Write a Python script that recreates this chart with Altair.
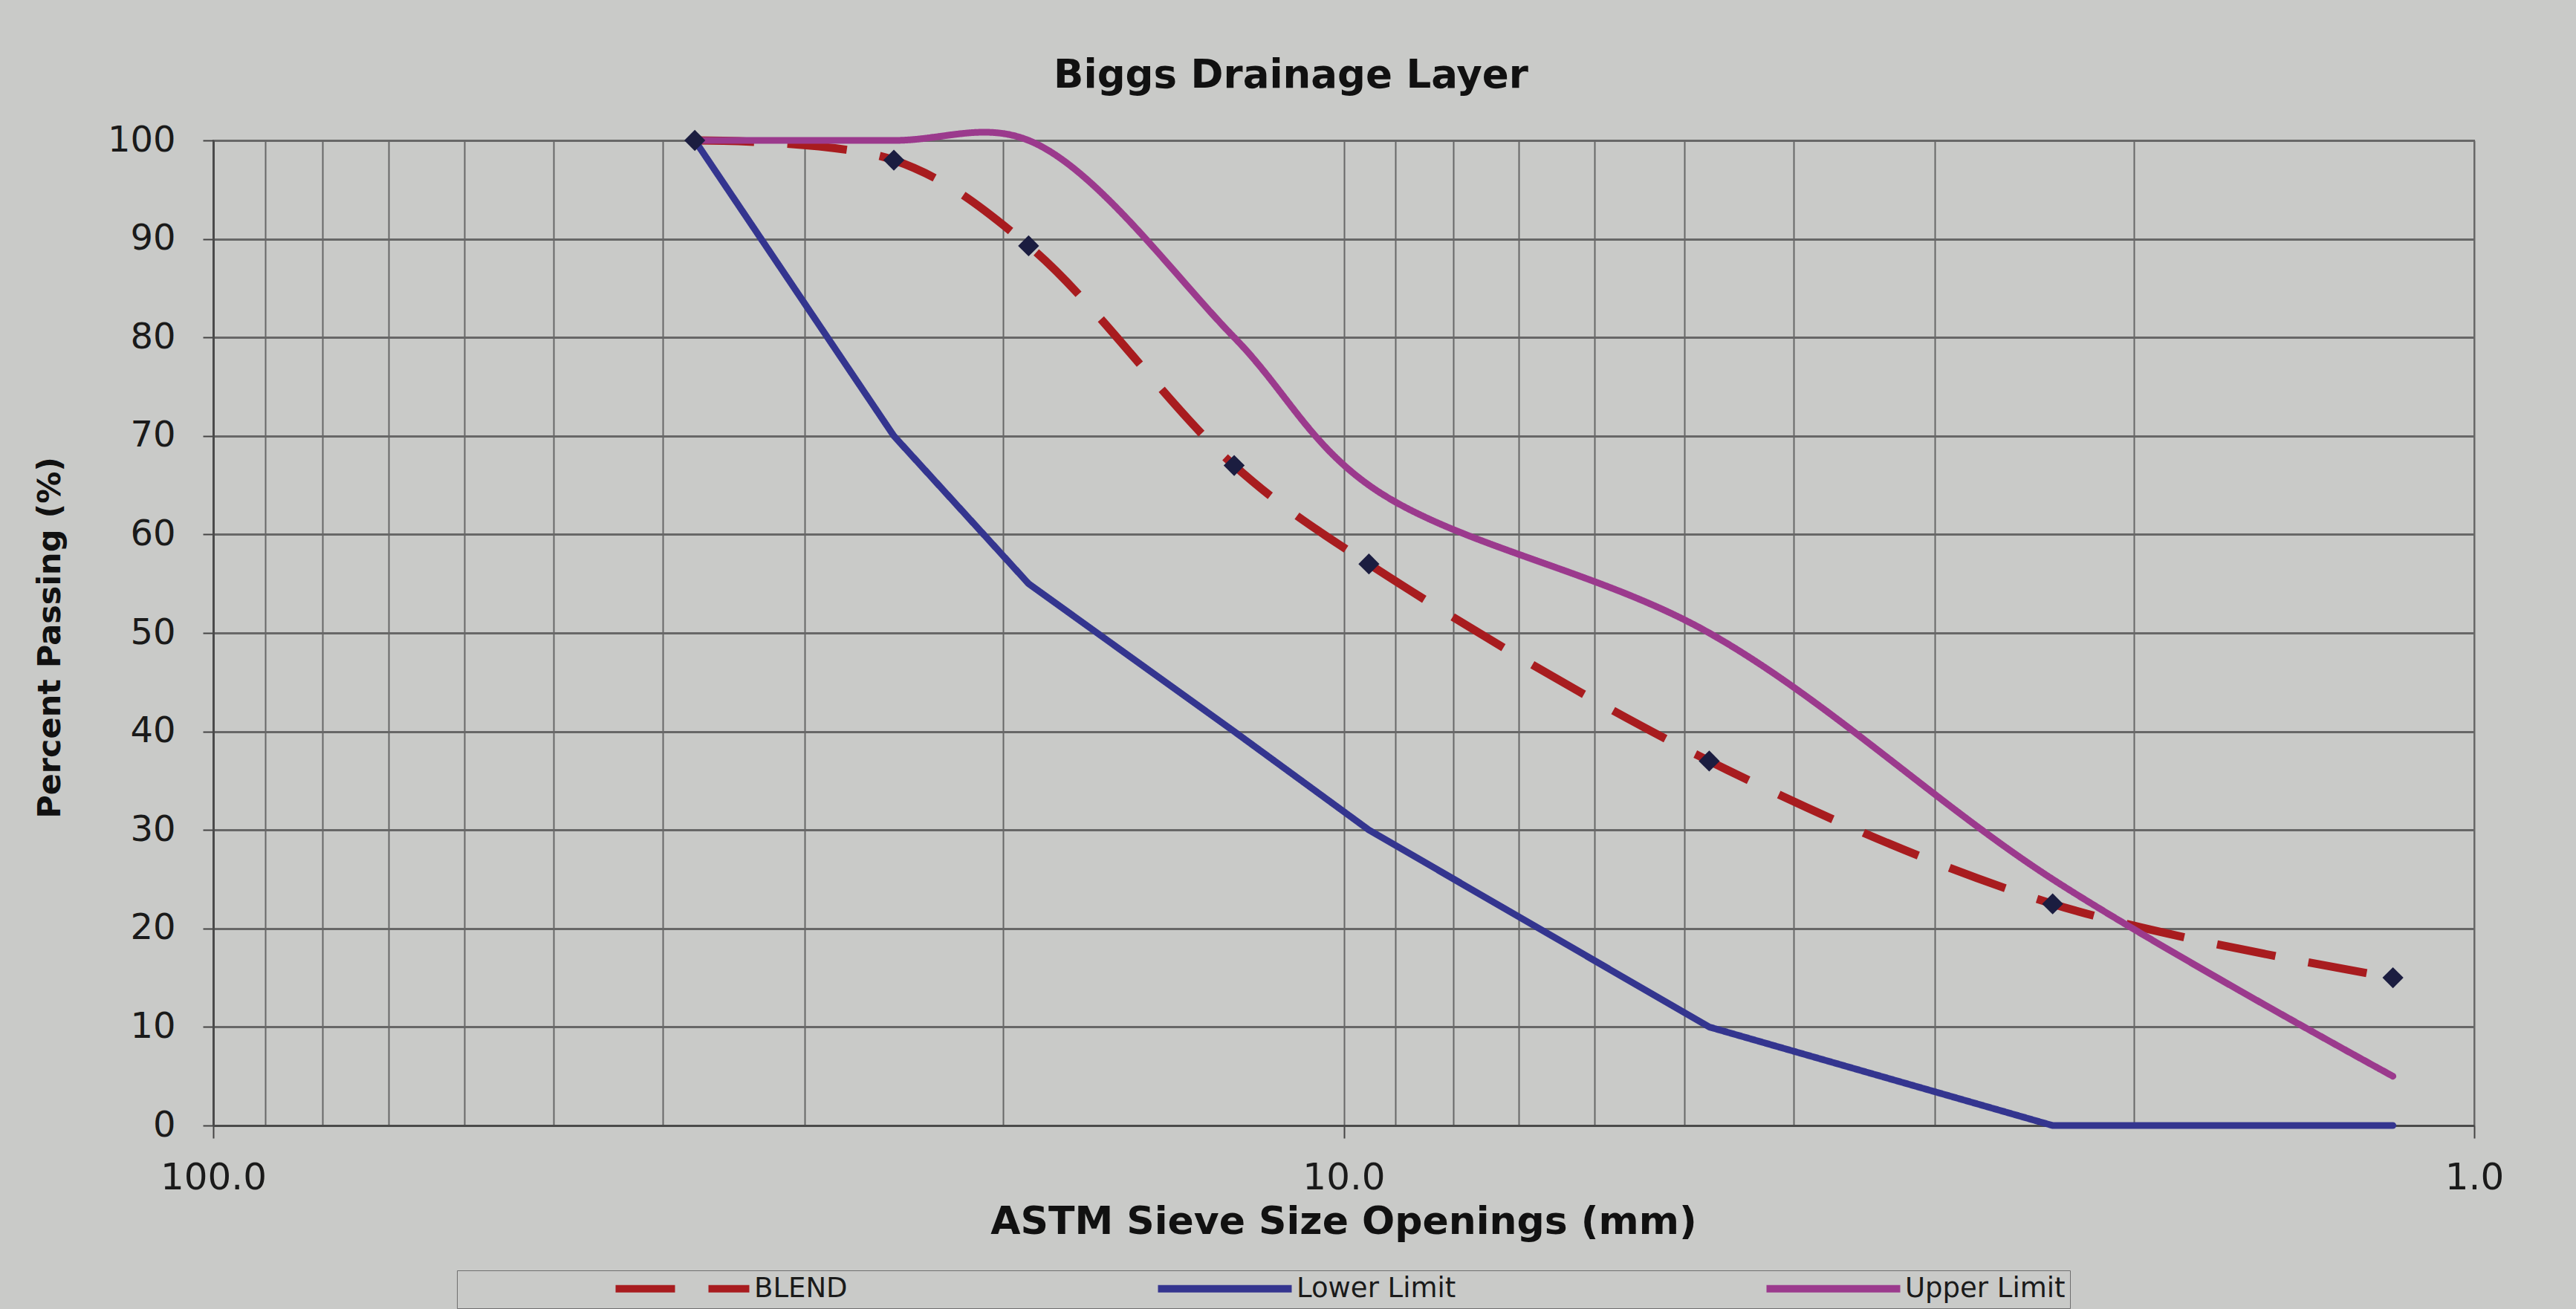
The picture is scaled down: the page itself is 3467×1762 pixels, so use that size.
import altair as alt
import pandas as pd

# ---- data ----
sieve_mm = [37.5, 25.0, 19.0, 12.5, 9.5, 4.75, 2.36, 1.18]
blend = [100, 98, 89.3, 67, 57, 37, 22.5, 15]
lower_limit = [100, 70, 55, 40, 30, 10, 0, 0]
upper_limit = [100, 100, 100, 80, 65, 50, 25, 5]

series_names = ["BLEND", "Lower Limit", "Upper Limit"]
series_colors = ["#a81c1f", "#34358f", "#9b3a8d"]
series_dash = [[80, 45], [1, 0], [1, 0]]

x_grid_values = [100, 90, 80, 70, 60, 50, 40, 30, 20, 10, 9, 8, 7, 6, 5, 4, 3, 2, 1]
y_tick_values = [0, 10, 20, 30, 40, 50, 60, 70, 80, 90, 100]

rows = []
for name, vals in zip(series_names, [blend, lower_limit, upper_limit]):
    for s, v in zip(sieve_mm, vals):
        rows.append({"size": s, "pct": v, "series": name})
df = pd.DataFrame(rows)

FONT = "DejaVu Sans"
GRID = "#676767"
BG = "#c9cac8"

x_enc = alt.X(
    "size:Q",
    scale=alt.Scale(type="log", domain=[1, 100], reverse=True, nice=False),
    axis=alt.Axis(
        values=x_grid_values,
        labelExpr="datum.value == 100 ? '100.0' : datum.value == 10 ? '10.0' : datum.value == 1 ? '1.0' : ''",
        labelOverlap=False,
        labelFlush=False,
        labelFont=FONT,
        labelFontSize=50,
        labelColor="#1a1a1a",
        labelPadding=28,
        tickSize=17,
        tickWidth=2,
        tickColor="#444444",
        tickOpacity={"condition": {"test": "datum.value == 1 || datum.value == 10 || datum.value == 100", "value": 1}, "value": 0},
        grid=True,
        gridColor=GRID,
        gridWidth=2,
        domainColor="#4a4a4a",
        domainWidth=3,
        title="ASTM Sieve Size Openings (mm)",
        titleFont=FONT,
        titleFontSize=52,
        titleFontWeight="bold",
        titleColor="#111111",
        titleX=1521,
        titleY=145,
        titleAlign="center",
        titleBaseline="alphabetic",
    ),
)

y_enc = alt.Y(
    "pct:Q",
    scale=alt.Scale(domain=[0, 100], nice=False),
    axis=alt.Axis(
        values=y_tick_values,
        labelFont=FONT,
        labelFontSize=48,
        labelColor="#1a1a1a",
        labelPadding=37,
        tickSize=14,
        tickWidth=2,
        tickColor="#444444",
        grid=True,
        gridColor=GRID,
        gridWidth=3,
        domainColor="#4a4a4a",
        domainWidth=3,
        title="Percent Passing (%)",
        titleFont=FONT,
        titleFontSize=43,
        titleFontWeight="bold",
        titleColor="#111111",
        titleAngle=270,
        titleX=-220,
        titleY=669,
        titleAlign="center",
        titleBaseline="middle",
    ),
)

legend = alt.Legend(
    orient="none",
    legendX=328,
    legendY=1521,
    direction="horizontal",
    title=None,
    symbolType="M-9,0H9",
    symbolSize=400,
    symbolStrokeWidth=10,
    symbolOffset=279,
    labelOffset=78,
    labelFont=FONT,
    labelFontSize=37,
    labelColor="#1a1a1a",
    labelLimit=0,
    columnPadding=210,
    padding=6,
    strokeColor="#6f6f6f",
    fillColor=BG,
)

color_enc = alt.Color("series:N", scale=alt.Scale(domain=series_names, range=series_colors), legend=legend)
dash_enc = alt.StrokeDash("series:N", scale=alt.Scale(domain=series_names, range=series_dash), legend=legend)

base = alt.Chart(df)

blend_line = base.transform_filter(alt.datum.series == "BLEND").mark_line(
    interpolate="catmull-rom", strokeWidth=11, strokeCap="butt"
).encode(x=x_enc, y=y_enc, color=color_enc, strokeDash=dash_enc)

lower_line = base.transform_filter(alt.datum.series == "Lower Limit").mark_line(
    interpolate="linear", strokeWidth=9, strokeCap="round", strokeJoin="round"
).encode(x=x_enc, y=y_enc, color=color_enc, strokeDash=dash_enc)

upper_line = base.transform_filter(alt.datum.series == "Upper Limit").mark_line(
    interpolate="catmull-rom", strokeWidth=9, strokeCap="round", strokeJoin="round"
).encode(x=x_enc, y=y_enc, color=color_enc, strokeDash=dash_enc)

blend_points = base.transform_filter(alt.datum.series == "BLEND").mark_point(
    shape="diamond", filled=True, size=800, color="#1b1d40", opacity=1
).encode(x=x_enc, y=y_enc)

chart = alt.layer(blend_line, lower_line, upper_line, blend_points).properties(
    width=3043,
    height=1326,
    title=alt.TitleParams(
        text="Biggs Drainage Layer",
        font=FONT,
        fontSize=53,
        fontWeight="bold",
        color="#111111",
        anchor="middle",
        frame="group",
        dx=-71,
        dy=73,
        offset=67,
        baseline="alphabetic",
    ),
    autosize=alt.AutoSizeParams(type="none"),
    padding={"left": 287, "top": 189, "right": 137, "bottom": 247},
).configure(
    background=BG,
).configure_view(
    stroke="#6a6a6a",
    strokeWidth=2,
)

chart.save("out.html", embed_options={"renderer": "svg", "actions": False})
